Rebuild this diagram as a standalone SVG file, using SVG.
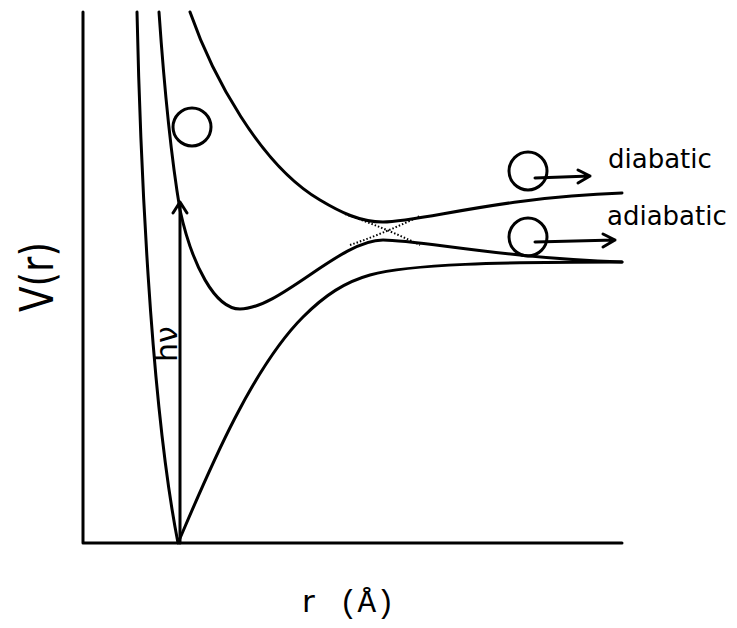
<svg xmlns="http://www.w3.org/2000/svg" width="737" height="628" viewBox="0 0 737 628">
<style>
.ln{fill:none;stroke:#000;stroke-width:3;stroke-linecap:round;stroke-linejoin:round}
.dot{fill:none;stroke:#000;stroke-width:2;stroke-dasharray:1.5 2}
.ball{fill:none;stroke:#000;stroke-width:3}
.lbl{font-family:"DejaVu Sans",sans-serif;fill:#000}
</style>
<rect width="737" height="628" fill="#fff"/>
<g id="axes">
<path class="ln" d="M83,12 L83,543 L622,543"/>
</g>
<g id="connectors">
<path id="ground" class="ln" d="M137,12 C140,150 150,400 178,543 C205,480 250,370 303,317 C325,295 345,282 370,275 C410,264 500,262 622,262"/>
<path id="bound" class="ln" d="M159,12 C163,70 170,150 180,210 C192,265 215,309 240,309 C280,309 340,240 383,240 C420,240 500,258 622,262"/>
<path id="repulsive" class="ln" d="M190,12 C212,75 260,165 320,200 C340,212 360,222 383,222 C420,222 500,197 622,193"/>
<path class="dot" d="M345,214 Q385,228 420,245"/>
<path class="dot" d="M350,245 Q385,233 420,216"/>
<path id="hv-arrow" class="ln" d="M180,543 L180,202 M173,213 L180,202 L187,213"/>
<path id="diabatic-arrow" class="ln" d="M535,178 L590,176 M578,170 L590,176 L578,183"/>
<path id="adiabatic-arrow" class="ln" d="M535,242 L615,240 M603,234 L615,240 L603,247"/>
</g>
<g id="ball-start"><circle class="ball" cx="192" cy="127" r="19"/></g>
<g id="ball-diabatic"><circle class="ball" cx="528" cy="171" r="19"/></g>
<g id="ball-adiabatic"><circle class="ball" cx="528" cy="237" r="19"/></g>
<g id="label-diabatic"><text class="lbl" x="608" y="168" font-size="26">diabatic</text></g>
<g id="label-adiabatic"><text class="lbl" x="607" y="225" font-size="26">adiabatic</text></g>
<g id="label-hv"><text class="lbl" font-size="30" text-anchor="middle" transform="translate(177,344) rotate(-90)">hν</text></g>
<g id="label-V"><text class="lbl" font-size="46" text-anchor="middle" textLength="70" lengthAdjust="spacingAndGlyphs" transform="translate(53,277) rotate(-90)">V(r)</text></g>
<g id="label-r"><text class="lbl" x="302" y="612" font-size="31">r</text><text x="339" y="612" font-size="31" font-family="'Liberation Mono',monospace">(Å)</text></g>
</svg>
